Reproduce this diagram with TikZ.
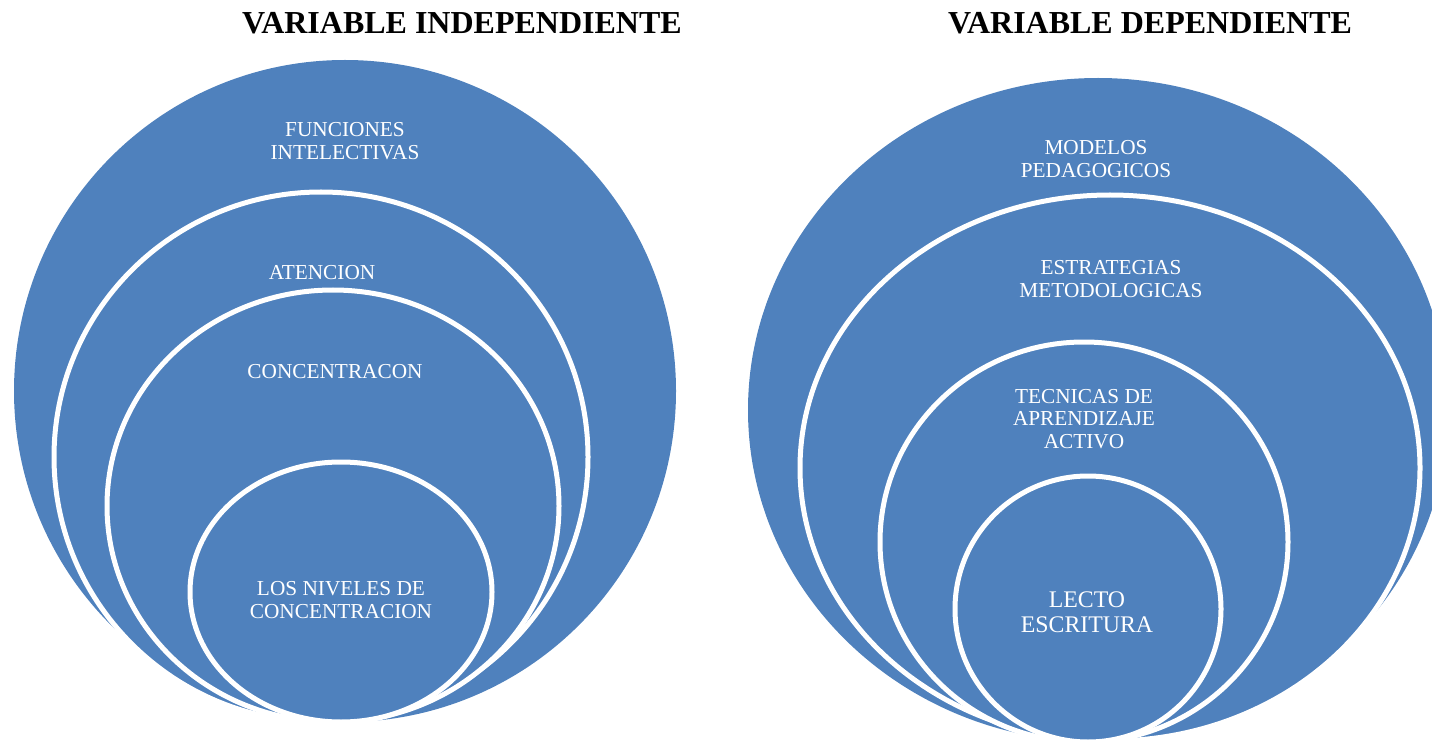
\documentclass[tikz,border=0pt]{standalone}
\usepackage{fontspec}
\setmainfont{Liberation Serif}
\definecolor{ringblue}{HTML}{4F81BD}
\tikzset{
  outerdisc/.style={fill=ringblue},
  ring/.style={fill=ringblue, draw=white, line width=5pt},
  ringtext/.style={text=white, align=center, inner sep=0pt, font=\fontsize{21.3}{22.5}\selectfont},
  bigtext/.style={text=white, align=center, inner sep=0pt, font=\fontsize{23.8}{25}\selectfont},
  titletext/.style={text=black, inner sep=0pt, font=\fontsize{32}{36}\selectfont\bfseries}
}
\begin{document}
\begin{tikzpicture}[x=1pt,y=-1pt]
\useasboundingbox (0,0) rectangle (1432,743);
% titles
\node[titletext] (t1) at (462,23) {VARIABLE INDEPENDIENTE};
\node[titletext] (t2) at (1150,23) {VARIABLE DEPENDIENTE};
% left target
\path[outerdisc] (345,391) ellipse [x radius=331pt, y radius=331pt];
\path[ring] (321,457) ellipse [x radius=267pt, y radius=265pt];
\path[ring] (333,506) ellipse [x radius=226pt, y radius=216pt];
\path[ring] (341,592) ellipse [x radius=151pt, y radius=130pt];
\node[ringtext] (l1) at (345,141) {FUNCIONES\\INTELECTIVAS};
\node[ringtext] (l2) at (322,273) {ATENCION};
\node[ringtext] (l3) at (335,372) {CONCENTRACON};
\node[ringtext] (l4) at (341,600) {LOS NIVELES DE\\CONCENTRACION};
% right target
\path[outerdisc] (1098,410) ellipse [x radius=350pt, y radius=332pt];
\path[ring] (1110,468) ellipse [x radius=310pt, y radius=273pt];
\path[ring] (1084,542) ellipse [x radius=204pt, y radius=200pt];
\path[ring] (1088,609) ellipse [x radius=133pt, y radius=133pt];
\node[ringtext] (r1) at (1096,159) {MODELOS\\PEDAGOGICOS};
\node[ringtext] (r2) at (1111,279) {ESTRATEGIAS\\METODOLOGICAS};
\node[ringtext] (r3) at (1084,419) {TECNICAS DE\\APRENDIZAJE\\ACTIVO};
\node[bigtext] (r4) at (1087,612) {LECTO\\ESCRITURA};
\end{tikzpicture}
\end{document}
